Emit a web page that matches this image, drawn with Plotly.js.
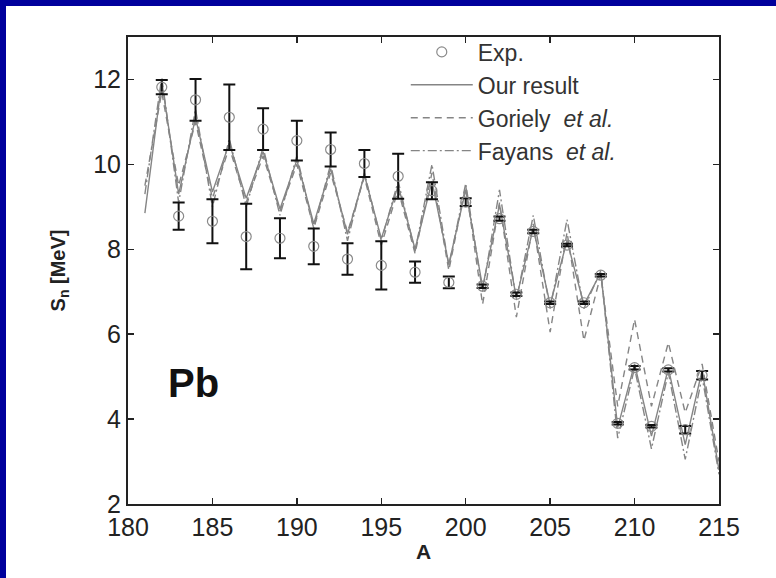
<!DOCTYPE html>
<html>
<head>
<meta charset="utf-8">
<script src="https://cdn.plot.ly/plotly-3.0.1.min.js"></script>
<style>
  html, body { margin: 0; padding: 0; background: #00009c; }
  #chart { position: absolute; left: 6px; top: 6px; width: 770px; height: 572px; background: #fff; }
</style>
</head>
<body>
<div id="chart"></div>
<script>
// mass numbers
const massA = [181, 182, 183, 184, 185, 186, 187, 188, 189, 190, 191, 192,
  193, 194, 195, 196, 197, 198, 199, 200, 201, 202, 203, 204, 205, 206, 207,
  208, 209, 210, 211, 212, 213, 214, 215];

// theory curves, S_n in MeV
const ourResult = [8.85, 11.95, 9.3, 11.1, 9.35, 10.5, 9.2, 10.3, 8.95, 10.1,
  8.6, 9.9, 8.35, 9.75, 8.25, 9.5, 8.0, 9.6, 7.65, 9.4, 7.1, 9.05, 6.85, 8.5,
  6.7, 8.2, 6.7, 7.45, 3.8, 5.3, 3.6, 5.2, 3.4, 5.15, 2.8];
const goriely = [9.5, 11.7, 9.5, 11.0, 9.2, 10.4, 9.1, 10.2, 8.9, 10.0, 8.5,
  9.8, 8.4, 9.7, 8.1, 9.4, 7.9, 9.8, 7.5, 9.5, 6.7, 9.1, 6.4, 8.6, 6.05, 8.4,
  5.85, 7.4, 4.3, 6.35, 4.3, 5.8, 4.15, 5.3, 3.0];
const fayans = [9.3, 12.05, 9.1, 11.3, 9.0, 10.6, 9.0, 10.4, 8.8, 10.2, 8.5,
  10.0, 8.2, 9.8, 8.2, 9.6, 7.95, 10.0, 7.6, 9.55, 7.0, 9.4, 6.8, 8.8, 6.6,
  8.7, 6.6, 7.5, 3.55, 5.2, 3.3, 5.1, 3.05, 5.0, 2.7];

// experiment
const expA = [182, 183, 184, 185, 186, 187, 188, 189, 190, 191, 192, 193, 194,
  195, 196, 197, 198, 199, 200, 201, 202, 203, 204, 205, 206, 207, 208, 209,
  210, 211, 212, 213, 214];
const expSn = [11.82, 8.78, 11.52, 8.66, 11.11, 8.3, 10.83, 8.26, 10.56, 8.07,
  10.35, 7.77, 10.02, 7.62, 9.72, 7.46, 9.38, 7.22, 9.11, 7.13, 8.72, 6.94,
  8.42, 6.74, 8.1, 6.74, 7.39, 3.9, 5.21, 3.83, 5.16, 3.75, 5.03];
const expErr = [0.17, 0.32, 0.49, 0.52, 0.77, 0.77, 0.49, 0.47, 0.47, 0.42,
  0.4, 0.37, 0.32, 0.57, 0.53, 0.25, 0.2, 0.14, 0.09, 0.04, 0.05, 0.04, 0.04,
  0.03, 0.03, 0.03, 0.03, 0.03, 0.04, 0.03, 0.04, 0.09, 0.1];

const yTicks = [2, 4, 6, 8, 10, 12];
const xTicks = [180, 185, 190, 195, 200, 205, 210, 215];

const FONT = "Liberation Sans, Arial, sans-serif";
const LINE_GRAY = "#858585";

const data = [
  {
    x: massA, y: ourResult, name: "Our result", type: "scatter", mode: "lines",
    line: { color: LINE_GRAY, width: 1.4, dash: "solid" }, legendrank: 2,
  },
  {
    x: massA, y: goriely, name: "Goriely  <i>et al.</i>", type: "scatter", mode: "lines",
    line: { color: LINE_GRAY, width: 1.4, dash: "7px,5px" }, legendrank: 3,
  },
  {
    x: massA, y: fayans, name: "Fayans  <i>et al.</i>", type: "scatter", mode: "lines",
    line: { color: LINE_GRAY, width: 1.4, dash: "9px,3px,2px,3px" }, legendrank: 4,
  },
  {
    x: expA, y: expSn, name: "Exp.", type: "scatter", mode: "markers",
    marker: { symbol: "circle-open", size: 10, color: "#8a8a8a", line: { width: 1.2 } },
    error_y: { type: "data", array: expErr, visible: true, color: "#111", thickness: 2, width: 6 },
    legendrank: 1,
  },
];

const layout = {
  width: 770,
  height: 572,
  paper_bgcolor: "#ffffff",
  plot_bgcolor: "#ffffff",
  font: { family: FONT, color: "#222" },
  margin: { l: 122, r: 57, t: 31, b: 74 },
  showlegend: true,
  legend: {
    x: 0.47, y: 1.014, xanchor: "left", yanchor: "top",
    font: { family: FONT, size: 23, color: "#333" },
    bgcolor: "rgba(0,0,0,0)",
    itemwidth: 62,
    tracegroupgap: 0,
  },
  xaxis: {
    range: [180, 215],
    tickvals: xTicks,
    ticks: "inside", ticklen: 6, tickwidth: 1.5, tickcolor: "#222",
    showline: true, linecolor: "#222", linewidth: 2, mirror: "ticks",
    showgrid: false, zeroline: false,
    tickfont: { family: FONT, size: 25, color: "#222" },
    title: { text: "<b>A</b>", font: { family: FONT, size: 21, color: "#222" }, standoff: 4 },
  },
  yaxis: {
    range: [2, 13],
    tickvals: yTicks,
    ticks: "inside", ticklen: 6, tickwidth: 1.5, tickcolor: "#222",
    showline: true, linecolor: "#222", linewidth: 2, mirror: "ticks",
    showgrid: false, zeroline: false,
    tickfont: { family: FONT, size: 25, color: "#222" },
    title: { text: "<b>S<sub>n</sub> [MeV]</b>", font: { family: FONT, size: 20, color: "#222" }, standoff: 22 },
  },
  annotations: [
    {
      x: 183.9, y: 4.85, xref: "x", yref: "y", text: "<b>Pb</b>", showarrow: false,
      font: { family: FONT, size: 40, color: "#111" },
    },
  ],
};

Plotly.newPlot(document.getElementById("chart"), data, layout, { displayModeBar: false, staticPlot: true });
</script>
</body>
</html>
